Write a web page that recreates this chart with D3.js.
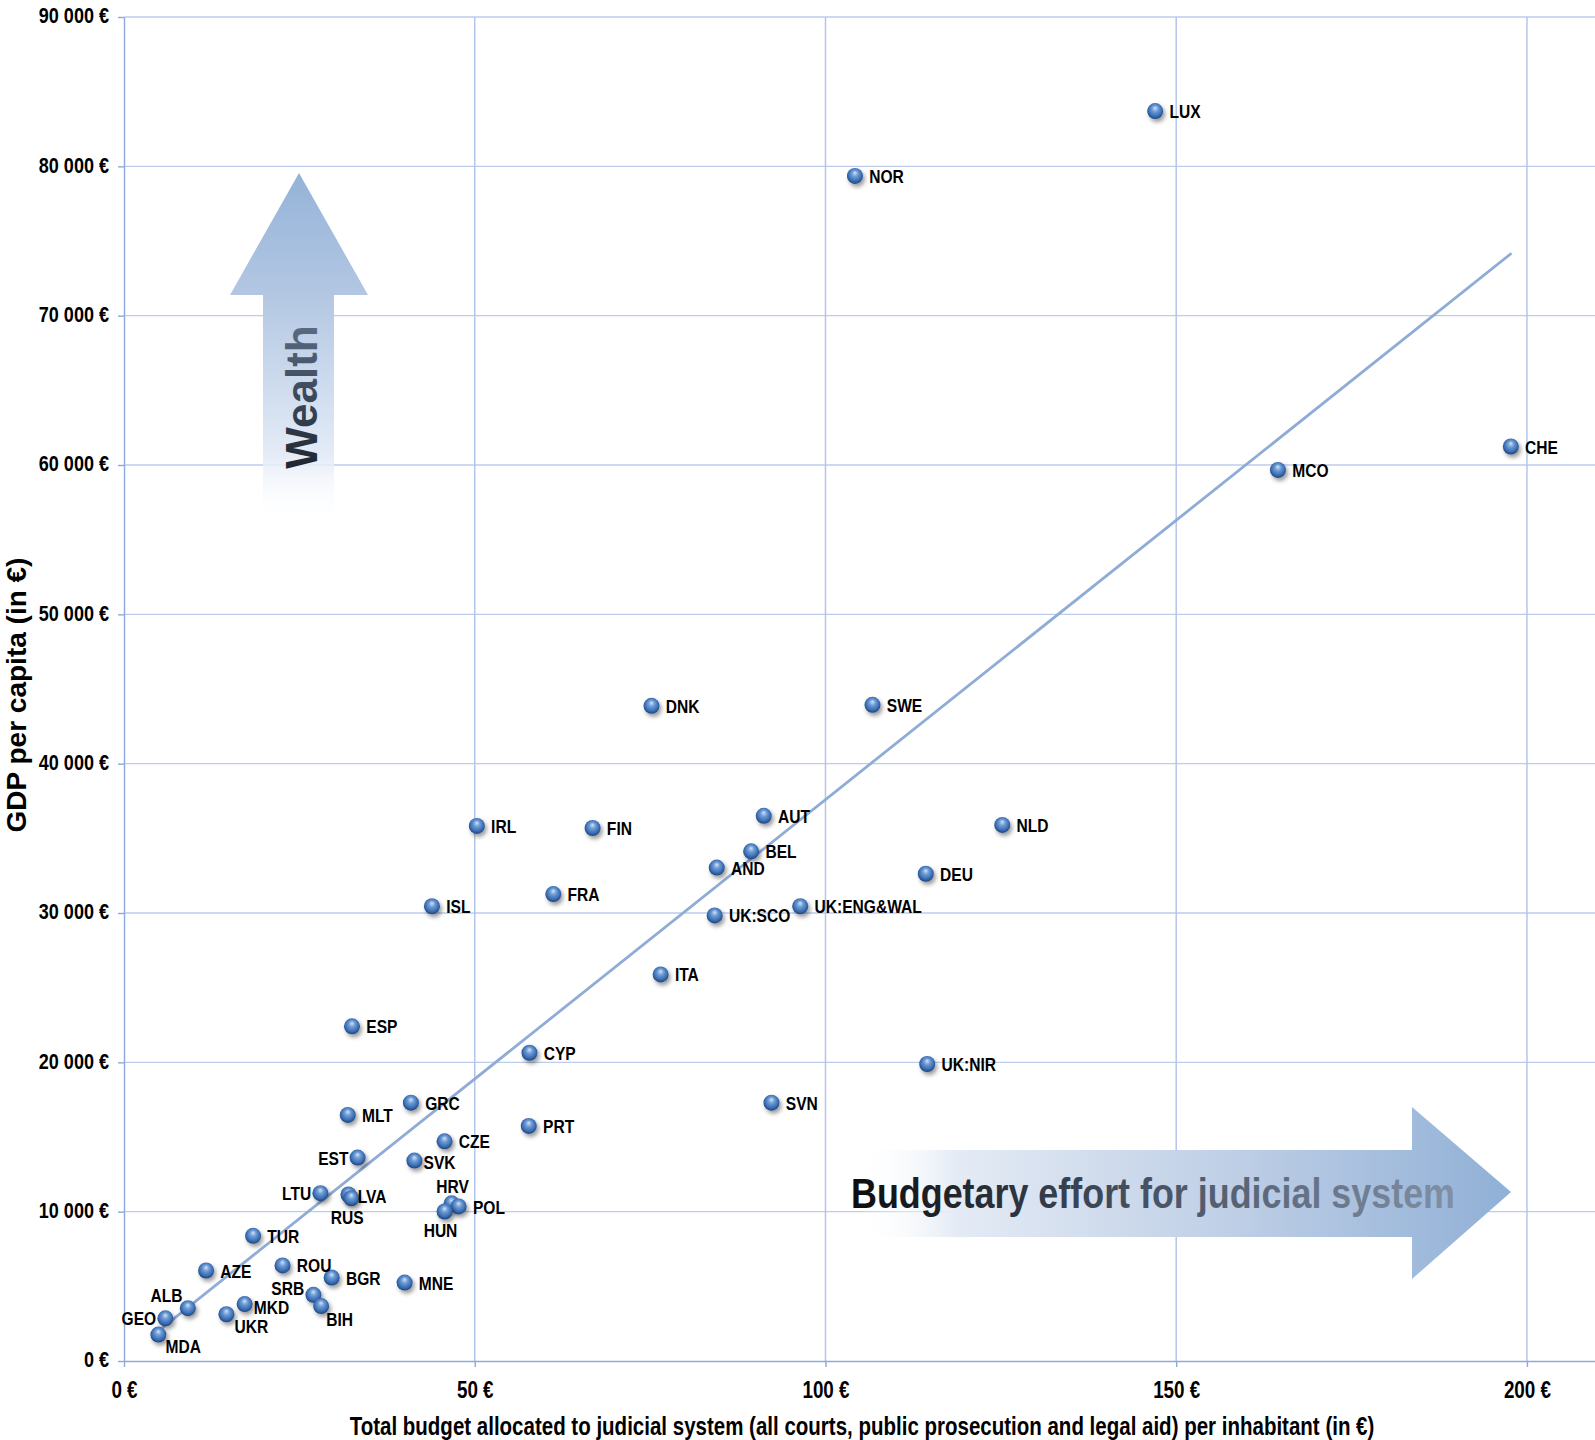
<!DOCTYPE html>
<html>
<head>
<meta charset="utf-8">
<script src="https://cdn.jsdelivr.net/npm/d3@7"></script>
<style>
  body { margin: 0; background: #fff; }
  text { font-family: "Liberation Sans", Arial, sans-serif; font-weight: bold; }
</style>
</head>
<body>
<div id="chart"></div>
<script>
// data: budget per inhabitant (EUR) vs GDP per capita (EUR)
var countries = ["LUX","NOR","CHE","MCO","DNK","SWE","IRL","FIN","AUT","NLD","BEL","AND","DEU","FRA","ISL",
  "UK:SCO","UK:ENG&WAL","ITA","ESP","CYP","UK:NIR","SVN","GRC","MLT","PRT","CZE","EST","SVK","LTU","LVA","RUS",
  "HRV","POL","HUN","TUR","AZE","ROU","BGR","MNE","SRB","BIH","MKD","UKR","ALB","GEO","MDA"];
var budget = [147.0,104.2,197.7,164.5,75.2,106.7,50.3,66.8,91.2,125.2,89.4,84.5,114.3,61.2,43.9,
  84.2,96.4,76.5,32.5,57.8,114.5,92.3,40.9,31.9,57.7,45.7,33.3,41.4,28.0,32.0,32.4,
  46.7,47.7,45.7,18.4,11.7,22.6,29.6,40.0,27.0,28.1,17.2,14.6,9.1,5.9,4.9];
var gdp = [83700,79360,61240,59670,43870,43940,35830,35690,36510,35900,34130,33040,32630,31270,30450,
  29840,30450,25890,22410,20640,19890,17300,17300,16480,15740,14710,13620,13420,11240,11150,10900,
  10560,10350,10010,8380,6060,6400,5590,5250,4430,3680,3810,3130,3540,2860,1770];
var xTicks = [0, 50, 100, 150, 200];
var yTicks = [0, 10000, 20000, 30000, 40000, 50000, 60000, 70000, 80000, 90000];
var trendX = [5.5, 197.8];
var trendY = [2240, 74180];

// where each label sits relative to its marker (default: right)
var labelSide = { MDA: "br", GEO: "l", ALB: "tl", UKR: "br2", MKD: "rm", SRB: "lu", BIH: "br3",
  LTU: "l", LVA: "rn", RUS: "b", HRV: "t", HUN: "b", EST: "l", SVK: "rn" };
var sides = {
  r:   { dx: 14, dy: 2, anchor: "start" },
  rn:  { dx: 9, dy: 3, anchor: "start" },
  rm:  { dx: 9, dy: 5, anchor: "start" },
  l:   { dx: -9, dy: 2, anchor: "end" },
  lu:  { dx: -9, dy: -5, anchor: "end" },
  t:   { dx: 1, dy: -15, anchor: "middle" },
  b:   { dx: -4, dy: 20, anchor: "middle" },
  tl:  { dx: -21, dy: -11, anchor: "middle" },
  br:  { dx: 7, dy: 13, anchor: "start" },
  br2: { dx: 8, dy: 13, anchor: "start" },
  br3: { dx: 5, dy: 15, anchor: "start" }
};

var svgWidth = 1595;
var svgHeight = 1440;
var margin = { top: 17, right: 0, bottom: 79, left: 124 };
var width = svgWidth - margin.left - margin.right;
var height = svgHeight - margin.top - margin.bottom;
var narrow = 0.82;   // Arial Narrow look from Liberation Sans Bold

var points = countries.map(function(c, i) {
  return { code: c, budget: budget[i], gdp: gdp[i] };
});

var svg = d3.select("#chart")
  .append("svg")
  .attr("width", svgWidth)
  .attr("height", svgHeight);

var defs = svg.append("defs");

var ball = defs.append("radialGradient")
  .attr("id", "ball")
  .attr("cx", "50%").attr("cy", "45%").attr("r", "55%")
  .attr("fx", "50%").attr("fy", "30%");
ball.append("stop").attr("offset", "0%").attr("stop-color", "#d2e3f6");
ball.append("stop").attr("offset", "35%").attr("stop-color", "#6e9cd6");
ball.append("stop").attr("offset", "75%").attr("stop-color", "#3a6db3");
ball.append("stop").attr("offset", "100%").attr("stop-color", "#1c437c");

var shadow = defs.append("filter")
  .attr("id", "shadow")
  .attr("x", "-60%").attr("y", "-60%").attr("width", "220%").attr("height", "220%");
shadow.append("feDropShadow")
  .attr("dx", 2).attr("dy", 3).attr("stdDeviation", 2.2)
  .attr("flood-color", "#000").attr("flood-opacity", 0.4);

var upGrad = defs.append("linearGradient")
  .attr("id", "upGrad").attr("x1", 0).attr("y1", 0).attr("x2", 0).attr("y2", 1);
upGrad.append("stop").attr("offset", "0%").attr("stop-color", "#94b3d8");
upGrad.append("stop").attr("offset", "35%").attr("stop-color", "#b3c7e3");
upGrad.append("stop").attr("offset", "80%").attr("stop-color", "#e3ebf6");
upGrad.append("stop").attr("offset", "100%").attr("stop-color", "#ffffff").attr("stop-opacity", 0);

var rightGrad = defs.append("linearGradient")
  .attr("id", "rightGrad").attr("x1", 0).attr("y1", 0).attr("x2", 1).attr("y2", 0);
rightGrad.append("stop").attr("offset", "0%").attr("stop-color", "#ffffff").attr("stop-opacity", 0);
rightGrad.append("stop").attr("offset", "15%").attr("stop-color", "#e4ebf5");
rightGrad.append("stop").attr("offset", "60%").attr("stop-color", "#bccde5");
rightGrad.append("stop").attr("offset", "100%").attr("stop-color", "#90b0d6");

var textGradR = defs.append("linearGradient")
  .attr("id", "textGradR").attr("x1", 0).attr("y1", 0).attr("x2", 1).attr("y2", 0);
textGradR.append("stop").attr("offset", "0%").attr("stop-color", "#0d0d0d");
textGradR.append("stop").attr("offset", "40%").attr("stop-color", "#3c4756");
textGradR.append("stop").attr("offset", "100%").attr("stop-color", "#8190a6");

var textGradU = defs.append("linearGradient")
  .attr("id", "textGradU").attr("x1", 0).attr("y1", 0).attr("x2", 1).attr("y2", 0);
textGradU.append("stop").attr("offset", "0%").attr("stop-color", "#1f2630");
textGradU.append("stop").attr("offset", "100%").attr("stop-color", "#5a6b82");

var chartGroup = svg.append("g")
  .attr("transform", `translate(${margin.left}, ${margin.top})`);

var xScale = d3.scaleLinear().domain([0, 209.7]).range([0, width]);
var yScale = d3.scaleLinear().domain([0, 90000]).range([height, 0]);

// grid
chartGroup.append("g")
  .selectAll("line")
  .data(yTicks.slice(1))
  .enter()
  .append("line")
  .attr("x1", 0).attr("x2", width)
  .attr("y1", d => yScale(d)).attr("y2", d => yScale(d))
  .attr("stroke", "#bccdeb").attr("stroke-width", 1.3);

chartGroup.append("g")
  .selectAll("line")
  .data(xTicks.slice(1))
  .enter()
  .append("line")
  .attr("x1", d => xScale(d)).attr("x2", d => xScale(d))
  .attr("y1", 0).attr("y2", height)
  .attr("stroke", "#b3c6ea").attr("stroke-width", 1.5);

var fmtY = function(d) {
  return d3.format(",")(d).replace(/,/g, " ") + " €";
};

var leftAxis = d3.axisLeft(yScale).tickValues(yTicks).tickSize(6).tickSizeOuter(0).tickFormat(fmtY);
var bottomAxis = d3.axisBottom(xScale).tickValues(xTicks).tickSize(6).tickSizeOuter(0)
  .tickFormat(d => d + " €");

var yAxisG = chartGroup.append("g").call(leftAxis);
var xAxisG = chartGroup.append("g").attr("transform", `translate(0, ${height})`).call(bottomAxis);

[yAxisG, xAxisG].forEach(function(g) {
  g.attr("font-family", null).attr("font-size", null);
  g.select(".domain").attr("stroke", "#8eaadc").attr("stroke-width", 1.4);
  g.selectAll(".tick line").attr("stroke", "#8eaadc").attr("stroke-width", 1.4);
});
yAxisG.selectAll(".tick text")
  .attr("x", 0).attr("dy", null)
  .attr("dominant-baseline", "middle")
  .attr("fill", "#000")
  .style("font-size", "22px")
  .attr("transform", `translate(-15, 0) scale(${narrow}, 1)`);
xAxisG.selectAll(".tick text")
  .attr("y", 0).attr("dy", null)
  .attr("dominant-baseline", "middle")
  .attr("fill", "#000")
  .style("font-size", "23px")
  .attr("transform", `translate(0, 31) scale(${narrow}, 1)`);

// wealth arrow
var wealth = svg.append("g");
wealth.append("path")
  .attr("d", "M299,173 L368,295 L334,295 L334,524 L263,524 L263,295 L230,295 Z")
  .attr("fill", "url(#upGrad)");
wealth.append("text")
  .attr("transform", "translate(317, 397) rotate(-90)")
  .attr("text-anchor", "middle")
  .style("font-size", "44px")
  .attr("fill", "url(#textGradU)")
  .text("Wealth");

// budget arrow
var effort = svg.append("g");
effort.append("path")
  .attr("d", "M858,1150 L1412,1150 L1412,1107 L1511,1192 L1412,1279 L1412,1237 L858,1237 Z")
  .attr("fill", "url(#rightGrad)");
effort.append("text")
  .attr("x", 851).attr("y", 1208)
  .style("font-size", "42px")
  .attr("textLength", 604)
  .attr("lengthAdjust", "spacingAndGlyphs")
  .attr("fill", "url(#textGradR)")
  .text("Budgetary effort for judicial system");

// trend line
chartGroup.append("line")
  .attr("x1", xScale(trendX[0])).attr("y1", yScale(trendY[0]))
  .attr("x2", xScale(trendX[1])).attr("y2", yScale(trendY[1]))
  .attr("stroke", "#8eacd6").attr("stroke-width", 2.8);

// markers
chartGroup.selectAll("circle")
  .data(points)
  .enter()
  .append("circle")
  .attr("cx", d => xScale(d.budget))
  .attr("cy", d => yScale(d.gdp))
  .attr("r", 8)
  .attr("fill", "url(#ball)")
  .attr("filter", "url(#shadow)");

chartGroup.selectAll("text.lbl")
  .data(points)
  .enter()
  .append("text")
  .attr("class", "lbl")
  .style("font-size", "19px")
  .attr("fill", "#000")
  .attr("dominant-baseline", "middle")
  .attr("text-anchor", d => sides[labelSide[d.code] || "r"].anchor)
  .attr("transform", function(d) {
    var s = sides[labelSide[d.code] || "r"];
    var x = xScale(d.budget) + s.dx * 1.02;
    var y = yScale(d.gdp) + s.dy * 1.02;
    return `translate(${x}, ${y}) scale(${narrow}, 1)`;
  })
  .text(d => d.code);

// axis titles
svg.append("text")
  .attr("transform", "translate(26, 695) rotate(-90)")
  .attr("text-anchor", "middle")
  .style("font-size", "28px")
  .text("GDP per capita (in €)");

svg.append("text")
  .attr("transform", `translate(862, 1435) scale(${narrow}, 1)`)
  .attr("text-anchor", "middle")
  .style("font-size", "25px")
  .text("Total budget allocated to judicial system (all courts, public prosecution and legal aid) per inhabitant (in €)");
</script>
</body>
</html>
